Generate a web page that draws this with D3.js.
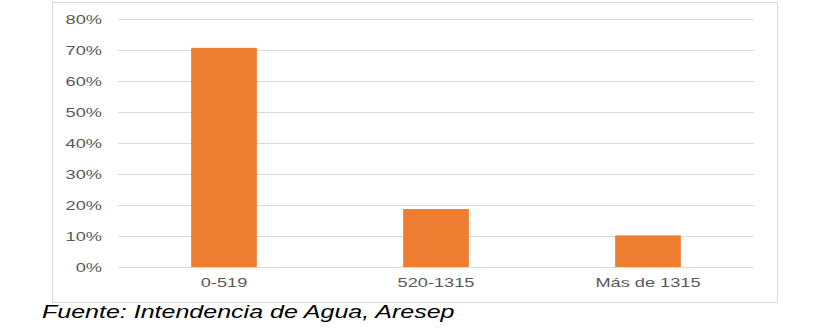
<!DOCTYPE html>
<html>
<head>
<meta charset="utf-8">
<script src="https://cdn.jsdelivr.net/npm/d3@7"></script>
<style>
  body { margin: 0; background: #fff; }
  svg { display: block; font-family: Arial, "Liberation Sans", sans-serif; }
</style>
</head>
<body>
<div id="chart"></div>
<script>
// Data
const categories = ['0-519', '520-1315', 'Más de 1315'];
const shares = [0.707, 0.187, 0.102];
const yTicks = [0, 0.1, 0.2, 0.3, 0.4, 0.5, 0.6, 0.7, 0.8];
const sourceNote = 'Fuente: Intendencia de Agua, Aresep';

const width = 825, height = 330;
const plot = { left: 118, right: 754, top: 19, bottom: 267 };
const stretch = 1.4; // the original picture is widened horizontally

const svg = d3.select('#chart')
  .append('svg')
  .attr('width', width)
  .attr('height', height);

// chart frame
svg.append('rect')
  .attr('x', 52.5)
  .attr('y', 2.5)
  .attr('width', 725)
  .attr('height', 300)
  .attr('fill', '#fff')
  .attr('stroke', '#d9d9d9')
  .attr('stroke-width', 1);

const x = d3.scaleBand()
  .domain(categories)
  .range([plot.left, plot.right])
  .paddingInner(0.69)
  .paddingOuter(0.345);

const y = d3.scaleLinear()
  .domain([0, 0.8])
  .range([plot.bottom, plot.top]);

// gridlines
svg.append('g')
  .selectAll('line')
  .data(yTicks)
  .join('line')
  .attr('x1', plot.left)
  .attr('x2', plot.right)
  .attr('y1', d => Math.round(y(d)) + 0.5)
  .attr('y2', d => Math.round(y(d)) + 0.5)
  .attr('stroke', '#d9d9d9')
  .attr('stroke-width', 1);

// y axis labels
const yAxis = d3.axisLeft(y)
  .tickValues(yTicks)
  .tickFormat(d3.format('.0%'))
  .tickSize(0)
  .tickPadding(16 / stretch);

svg.append('g')
  .attr('transform', `translate(${plot.left},0)`)
  .call(yAxis)
  .call(g => g.select('.domain').remove())
  .call(g => g.selectAll('text')
    .attr('fill', '#595959')
    .attr('font-size', '13px')
    .attr('font-family', 'Arial, "Liberation Sans", sans-serif')
    .attr('transform', `scale(${stretch},1)`));

// bars
svg.append('g')
  .selectAll('rect')
  .data(categories.map((c, i) => ({ c, v: shares[i] })))
  .join('rect')
  .attr('x', d => x(d.c))
  .attr('y', d => y(d.v))
  .attr('width', x.bandwidth())
  .attr('height', d => y(0) - y(d.v))
  .attr('fill', '#ed7d31');

// baseline
svg.append('line')
  .attr('x1', plot.left)
  .attr('x2', plot.right)
  .attr('y1', plot.bottom + 0.5)
  .attr('y2', plot.bottom + 0.5)
  .attr('stroke', '#d9d9d9');

// x axis labels
const xAxis = d3.axisBottom(x).tickSize(0).tickPadding(11);
svg.append('g')
  .attr('transform', `translate(0,${plot.bottom})`)
  .call(xAxis)
  .call(g => g.select('.domain').remove())
  .call(g => g.selectAll('text')
    .attr('fill', '#595959')
    .attr('font-size', '13px')
    .attr('font-family', 'Arial, "Liberation Sans", sans-serif')
    .attr('transform', `scale(${stretch},1)`));

// source note
svg.append('text')
  .attr('transform', `translate(42,318) scale(1.43,1)`)
  .attr('fill', '#000')
  .attr('font-size', '17.5px')
  .attr('font-style', 'italic')
  .text(sourceNote);
</script>
</body>
</html>
